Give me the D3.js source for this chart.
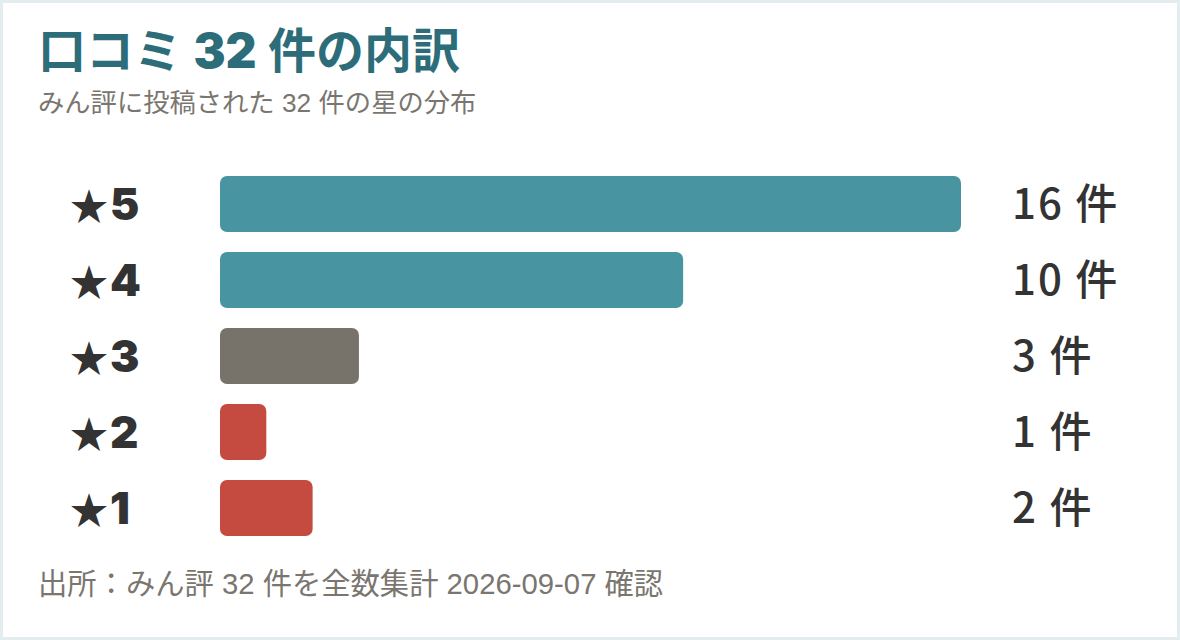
<!DOCTYPE html>
<html><head><meta charset="utf-8">
<script src="https://cdn.jsdelivr.net/npm/d3@7"></script>
<style>
html,body{margin:0;padding:0;background:#e3ecef;}
svg{display:block;}
</style></head>
<body>
<svg id="chart" width="1180" height="640"></svg>
<script>
const categories = ["★5","★4","★3","★2","★1"];
const counts = [16, 10, 3, 1, 2];
const countLabels = ["16 件","10 件","3 件","1 件","2 件"];
const barColors = ["#4894a1","#4894a1","#78736a","#c54a3f","#c54a3f"];
const title = "口コミ 32 件の内訳";
const subtitle = "みん評に投稿された 32 件の星の分布";
const footer = "出所：みん評 32 件を全数集計 2026-09-07 確認";

const svg = d3.select("#chart");
const jp = "'Liberation Sans','Noto Sans CJK JP',sans-serif";
const heavy = "'Inter','Noto Sans CJK JP',sans-serif";

svg.append("rect").attr("x",3).attr("y",3).attr("width",1174).attr("height",634).attr("fill","#ffffff");

// title: digits heavier
const t = svg.append("text").attr("x",38).attr("y",68).attr("font-family",heavy)
  .attr("font-size",48).attr("fill","#2c6d79");
title.split(/(\d+)/).forEach(part => {
  if (!part) return;
  t.append("tspan").attr("font-weight", /^\d+$/.test(part) ? 900 : 700).text(part);
});

svg.append("text").attr("x",38).attr("y",112).attr("font-family",jp)
  .attr("font-size",26.3).attr("fill","#7a766f").text(subtitle);

const x = d3.scaleLinear().domain([0,16]).range([220,961]);
const y = d3.scaleBand().domain(categories).range([166,546]).paddingInner(20/76).paddingOuter(10/76);

const rows = svg.selectAll("g.row").data(categories.map((c,i)=>({c, v:counts[i], l:countLabels[i], col:barColors[i]})))
  .enter().append("g").attr("class","row");

rows.append("rect").attr("x",x(0)).attr("y",d=>y(d.c)).attr("width",d=>x(d.v)-x(0))
  .attr("height",y.bandwidth()).attr("rx",7).attr("fill",d=>d.col);

const lab = rows.append("text").attr("x",70).attr("y",d=>y(d.c)+y.bandwidth()/2 + 16)
  .attr("font-family",heavy).attr("fill","#333333");
lab.append("tspan").attr("font-size",38).attr("font-family",jp).attr("font-weight",700).text(d=>d.c.slice(0,1));
lab.append("tspan").attr("font-size",44).attr("font-weight",900).attr("dx",2).text(d=>d.c.slice(1));

rows.append("text").attr("x",1012).attr("y",d=>y(d.c)+y.bandwidth()/2).attr("dy","0.36em")
  .attr("font-family","'Noto Sans CJK JP',sans-serif").attr("font-weight",500).attr("font-size",42)
  .attr("letter-spacing",2).attr("fill","#333333").text(d=>d.l);

svg.append("text").attr("x",38).attr("y",594).attr("font-family",jp)
  .attr("font-size",29.3).attr("fill","#7a766f").text(footer);
</script>
</body></html>
